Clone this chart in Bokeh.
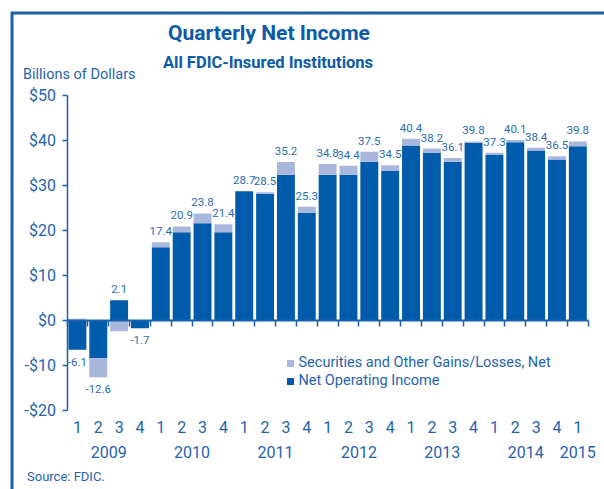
from bokeh.plotting import figure
from bokeh.models import Range1d, LinearAxis, FixedTicker, Label, ColumnDataSource
from bokeh.core.properties import value
from bokeh.embed import file_html
from bokeh.resources import INLINE

# ---------------- data ----------------
period_year = ["2009"] * 4 + ["2010"] * 4 + ["2011"] * 4 + ["2012"] * 4 + ["2013"] * 4 + ["2014"] * 4 + ["2015"]
period_quarter = ["1", "2", "3", "4"] * 6 + ["1"]
net_operating_income = [-6.5, -8.4, 4.5, -1.7, 16.3, 19.6, 21.6, 19.6, 28.7, 28.1, 32.4, 23.9,
                        32.4, 32.4, 35.3, 33.2, 38.9, 37.2, 35.3, 39.5, 36.8, 39.6, 37.8, 35.8, 38.7]
securities_gains = [0.4, -4.2, -2.4, 0.0, 1.1, 1.3, 2.2, 1.8, 0.0, 0.4, 2.8, 1.4,
                    2.4, 2.0, 2.2, 1.3, 1.5, 1.0, 0.8, 0.3, 0.5, 0.5, 0.6, 0.7, 1.1]
net_income = [-6.1, -12.6, 2.1, -1.7, 17.4, 20.9, 23.8, 21.4, 28.7, 28.5, 35.2, 25.3,
              34.8, 34.4, 37.5, 34.5, 40.4, 38.2, 36.1, 39.8, 37.3, 40.1, 38.4, 36.5, 39.8]
y_ticks = [-20, -10, 0, 10, 20, 30, 40, 50]
y_tick_labels = ["-$20", "-$10", "$0", "$10", "$20", "$30", "$40", "$50"]
series_names = ["Securities and Other Gains/Losses, Net", "Net Operating Income"]

# ---------------- style ----------------
FONT = "Roboto"
DARK = "#005BAA"
LIGHT = "#AAB7DD"
TITLE_C = "#0C5AA9"
TEXT_C = "#1F63B0"
LABEL_C = "#2A6BB4"
AXIS_C = "#1A60AE"

W, H = 604, 489
X0, SLOT = 66.5, 20.85     # pixel of x=0, pixels per quarter
Y0, YS = 320.0, 4.5        # pixel of y=0, pixels per $1B


def px2x(px):
    return (px - X0) / SLOT


def py2y(py):
    return (Y0 - py) / YS


n = len(net_income)

p = figure(width=W, height=H, output_backend="svg", toolbar_location=None,
           x_range=Range1d(px2x(0), px2x(W)), y_range=Range1d(py2y(H), py2y(0)),
           x_axis_location=None, y_axis_location=None,
           min_border=0, min_border_left=0, min_border_right=0,
           min_border_top=0, min_border_bottom=0)
p.grid.visible = False
p.outline_line_color = None
p.background_fill_color = "white"
p.border_fill_color = "white"

# ---------------- bars ----------------
xc = [i + 0.5 for i in range(n)]
light_bottom = [o if o * s >= 0 else 0.0 for o, s in zip(net_operating_income, securities_gains)]
light_top = [b + s if o * s >= 0 else s for b, o, s in zip(light_bottom, net_operating_income, securities_gains)]

src = ColumnDataSource(dict(x=xc, dark_top=net_operating_income, dark_bottom=[0.0] * n,
                            light_bottom=light_bottom, light_top=light_top))
p.vbar(x="x", top="dark_top", bottom="dark_bottom", width=0.86, source=src,
       fill_color=DARK, line_color=None)
p.vbar(x="x", top="light_top", bottom="light_bottom", width=0.86, source=src,
       fill_color=LIGHT, line_color=None)

# value labels
anchor, offs = [], []
for o, lb, lt, tot in zip(net_operating_income, light_bottom, light_top, net_income):
    if tot >= 0:
        anchor.append(max(0, o, lb, lt))
        offs.append(-11)
    else:
        anchor.append(min(0, o, lb, lt))
        offs.append(12)
lsrc = ColumnDataSource(dict(x=xc, y=anchor, off=offs, t=["%.1f" % v for v in net_income]))
p.text(x="x", y="y", text="t", y_offset="off", source=lsrc, text_align="center",
       text_baseline="middle", text_font=value(FONT), text_font_size="11.5px",
       text_color=LABEL_C)

# ---------------- axes ----------------
yaxis = LinearAxis(fixed_location=0)
yaxis.ticker = FixedTicker(ticks=y_ticks)
yaxis.major_label_overrides = {t: l for t, l in zip(y_ticks, y_tick_labels)}
yaxis.bounds = (min(y_ticks), max(y_ticks))
yaxis.axis_line_color = AXIS_C
yaxis.axis_line_width = 1.5
yaxis.major_tick_line_color = AXIS_C
yaxis.major_tick_line_width = 1.5
yaxis.major_tick_out = 5
yaxis.major_tick_in = 0
yaxis.minor_tick_line_color = None
yaxis.major_label_standoff = 6
yaxis.major_label_text_font = FONT
yaxis.major_label_text_font_size = "16px"
yaxis.major_label_text_color = TEXT_C
p.add_layout(yaxis, "left")

p.extra_x_ranges = {
    "c": Range1d(px2x(0) - 0.5, px2x(W) - 0.5),
    "d": Range1d(2 * (px2x(0) - 0.5), 2 * (px2x(W) - 0.5)),
}

qaxis = LinearAxis(x_range_name="c", fixed_location=0)
qaxis.ticker = FixedTicker(ticks=list(range(n)), minor_ticks=[i - 0.5 for i in range(n + 1)])
qaxis.major_label_overrides = {i: q for i, q in enumerate(period_quarter)}
qaxis.bounds = (-0.5, n - 0.5)
qaxis.axis_line_color = AXIS_C
qaxis.axis_line_width = 2
qaxis.major_tick_line_color = None
qaxis.major_tick_out = 0
qaxis.major_tick_in = 0
qaxis.minor_tick_line_color = AXIS_C
qaxis.minor_tick_line_width = 1.5
qaxis.minor_tick_out = 6
qaxis.minor_tick_in = 0
qaxis.major_label_standoff = 94
qaxis.major_label_text_font = FONT
qaxis.major_label_text_font_size = "16px"
qaxis.major_label_text_color = TEXT_C
p.add_layout(qaxis, "below")

years = []
for y in period_year:
    if y not in years:
        years.append(y)
year_pos = []
for y in years:
    ids = [i for i, v in enumerate(period_year) if v == y]
    year_pos.append(min(ids) + max(ids))
yraxis = LinearAxis(x_range_name="d", fixed_location=0)
yraxis.ticker = FixedTicker(ticks=year_pos)
yraxis.major_label_overrides = {t: y for t, y in zip(year_pos, years)}
yraxis.axis_line_color = None
yraxis.major_tick_line_color = None
yraxis.minor_tick_line_color = None
yraxis.major_tick_out = 0
yraxis.major_tick_in = 0
yraxis.major_label_standoff = 125
yraxis.major_label_text_font = FONT
yraxis.major_label_text_font_size = "16px"
yraxis.major_label_text_color = TEXT_C
p.add_layout(yraxis, "below")

# ---------------- legend (manual) ----------------
leg_x = px2x(290)
p.scatter(x=[leg_x, leg_x], y=[py2y(363), py2y(381)], marker="square", size=7,
          fill_color=[LIGHT, DARK], line_color=None)
p.text(x=[px2x(298)] * 2, y=[py2y(361.5), py2y(379.5)], text=series_names, text_align="left",
       text_baseline="middle", text_font=value(FONT), text_font_size="14.5px",
       text_color=TEXT_C)

# ---------------- titles / notes ----------------
p.add_layout(Label(x=px2x(268.5), y=py2y(32.5), text="Quarterly Net Income", text_align="center",
                   text_baseline="middle", text_font=FONT, text_font_size="21px",
                   text_font_style="bold", text_color=TITLE_C))
p.add_layout(Label(x=px2x(267.5), y=py2y(61.5), text="All FDIC-Insured Institutions", text_align="center",
                   text_baseline="middle", text_font=FONT, text_font_size="16.5px",
                   text_font_style="bold", text_color=TITLE_C))
p.add_layout(Label(x=px2x(22.5), y=py2y(74), text="Billions of Dollars", text_align="left",
                   text_baseline="middle", text_font=FONT, text_font_size="14.5px",
                   text_color=TEXT_C))
p.add_layout(Label(x=px2x(26.5), y=py2y(476), text="Source: FDIC.", text_align="left",
                   text_baseline="middle", text_font=FONT, text_font_size="13px",
                   text_color=TEXT_C))

# frame border (left and top edges of the exhibit box)
bx, by = px2x(11.5), py2y(12.5)
p.line(x=[bx, bx, px2x(W + 5)], y=[py2y(H + 5), by, by], line_color=AXIS_C, line_width=3,
       line_join="miter")

open("out.html", "w").write(file_html(p, INLINE))
